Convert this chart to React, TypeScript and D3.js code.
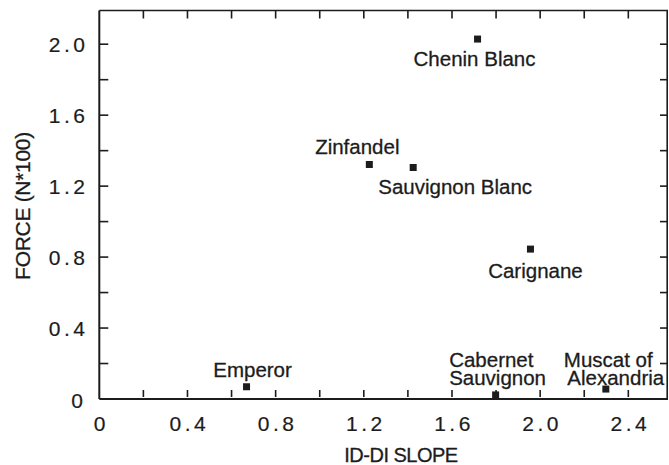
import React from "react";
import * as d3 from "d3";

const varieties = [
  "Chenin Blanc",
  "Zinfandel",
  "Sauvignon Blanc",
  "Carignane",
  "Cabernet Sauvignon",
  "Muscat of Alexandria",
  "Emperor",
];
const slope = [1.716, 1.225, 1.424, 1.956, 1.798, 2.298, 0.668];
const force = [2.029, 1.322, 1.305, 0.845, 0.023, 0.056, 0.069];

const xTickValues = [0, 0.4, 0.8, 1.2, 1.6, 2.0, 2.4];
const xTickLabels = ["0", "0.4", "0.8", "1.2", "1.6", "2.0", "2.4"];
const yTickValues = [0, 0.4, 0.8, 1.2, 1.6, 2.0];
const yTickLabels = ["0", "0.4", "0.8", "1.2", "1.6", "2.0"];

const xTitle = "ID-DI SLOPE";
const yTitle = "FORCE (N*100)";

// label placement (style, not data)
const labelLayout: Record<string, { lines: string[]; anchor: string; dx: number; dy: number }> = {
  "Chenin Blanc": { lines: ["Chenin Blanc"], anchor: "middle", dx: -3, dy: 27 },
  Zinfandel: { lines: ["Zinfandel"], anchor: "middle", dx: -12, dy: -10 },
  "Sauvignon Blanc": { lines: ["Sauvignon Blanc"], anchor: "middle", dx: 42, dy: 27 },
  Carignane: { lines: ["Carignane"], anchor: "middle", dx: 5, dy: 29 },
  "Cabernet Sauvignon": { lines: ["Cabernet", "Sauvignon"], anchor: "start", dx: -46.5, dy: -28 },
  "Muscat of Alexandria": { lines: ["Muscat of", "Alexandria"], anchor: "start", dx: -42, dy: -22 },
  Emperor: { lines: ["Emperor"], anchor: "middle", dx: 6, dy: -10 },
};
const secondLineIndent: Record<string, number> = {
  "Cabernet Sauvignon": 0,
  "Muscat of Alexandria": 3.5,
};

const W = 669;
const H = 465;
const FONT = "'Liberation Sans', Arial, Helvetica, sans-serif";
const INK = "#1c1c1c";

export default function App() {
  const x = d3.scaleLinear().domain([0, 2.58]).range([99.3, 668]);
  const y = d3.scaleLinear().domain([0, 2.19]).range([399, 10.5]);
  const [x0, x1] = x.range();
  const [y0, y1] = y.range();
  const minorX = d3.range(0.2, 2.58, 0.2);
  const minorY = d3.range(0.2, 2.19, 0.2);
  const tick = 8;

  return (
    <div style={{ position: "absolute", left: 0, top: 0 }}>
      <svg width={W} height={H} style={{ display: "block", background: "#fff" }}>
        {/* frame */}
        <line x1={x0} y1={y0} x2={x1} y2={y0} stroke={INK} strokeWidth={2} />
        <line x1={x0} y1={y0} x2={x0} y2={y1} stroke={INK} strokeWidth={2} />
        <line x1={x0} y1={y1} x2={x1} y2={y1} stroke={INK} strokeWidth={1.6} />
        <line x1={x1 - 0.8} y1={y1} x2={x1 - 0.8} y2={y0} stroke={INK} strokeWidth={1.6} />

        {/* x ticks bottom & top */}
        {minorX.map((v, i) => (
          <g key={"xt" + i}>
            <line x1={x(v)} x2={x(v)} y1={y0 - 2} y2={y0 - tick - 1} stroke={INK} strokeWidth={1.6} />
            <line x1={x(v)} x2={x(v)} y1={y1} y2={y1 + tick} stroke={INK} strokeWidth={1.6} />
          </g>
        ))}
        {/* y ticks left & right */}
        {minorY.map((v, i) => (
          <g key={"yt" + i}>
            <line x1={x0} x2={x0 + tick + 1} y1={y(v)} y2={y(v)} stroke={INK} strokeWidth={1.6} />
            <line x1={x1} x2={x1 - tick} y1={y(v)} y2={y(v)} stroke={INK} strokeWidth={1.6} />
          </g>
        ))}

        {/* x tick labels */}
        {xTickValues.map((v, i) => (
          <text
            key={"xl" + i}
            x={x(v) + 2}
            y={430.5}
            textAnchor="middle"
            fontFamily={FONT}
            fontSize={21}
            letterSpacing={3.5}
            fill={INK}
            stroke={INK}
            strokeWidth={0.2}
          >
            {xTickLabels[i]}
          </text>
        ))}
        {/* y tick labels */}
        {yTickValues.map((v, i) =>
          v === 0 ? (
            <text
              key={"yl" + i}
              x={83}
              y={407.5}
              textAnchor="end"
              fontFamily={FONT}
              fontSize={21}
              fill={INK}
              stroke={INK}
              strokeWidth={0.2}
            >
              {yTickLabels[i]}
            </text>
          ) : (
            <text
              key={"yl" + i}
              x={88.5}
              y={y(v) + 7.5}
              textAnchor="end"
              fontFamily={FONT}
              fontSize={21}
              letterSpacing={3.5}
              fill={INK}
              stroke={INK}
              strokeWidth={0.2}
            >
              {yTickLabels[i]}
            </text>
          )
        )}

        {/* axis titles */}
        <text
          x={401}
          y={462}
          textAnchor="middle"
          fontFamily={FONT}
          fontSize={20}
          fill={INK}
          stroke={INK}
          strokeWidth={0.3}
          letterSpacing={-0.5}
        >
          {xTitle}
        </text>
        <text
          transform={`translate(30, 206) rotate(-90)`}
          textAnchor="middle"
          fontFamily={FONT}
          fontSize={21}
          fill={INK}
          stroke={INK}
          strokeWidth={0.3}
          letterSpacing={-0.3}
        >
          {yTitle}
        </text>

        {/* points */}
        {varieties.map((name, i) => (
          <rect
            key={"p" + i}
            x={x(slope[i]) - 3.5}
            y={y(force[i]) - 3.5}
            width={7}
            height={7}
            fill={INK}
          />
        ))}

        {/* labels */}
        {varieties.map((name, i) => {
          const l = labelLayout[name];
          const bx = x(slope[i]) + l.dx;
          return (
            <text
              key={"lb" + i}
              x={bx}
              y={y(force[i]) + l.dy}
              textAnchor={l.anchor}
              fontFamily={FONT}
              fontSize={20.5}
              fill={INK}
              stroke={INK}
              strokeWidth={0.3}
            >
              {l.lines.map((t, j) => (
                <tspan key={j} x={j === 0 ? bx : bx + (secondLineIndent[name] || 0)} dy={j === 0 ? 0 : 18}>
                  {t}
                </tspan>
              ))}
            </text>
          );
        })}
      </svg>
    </div>
  );
}
